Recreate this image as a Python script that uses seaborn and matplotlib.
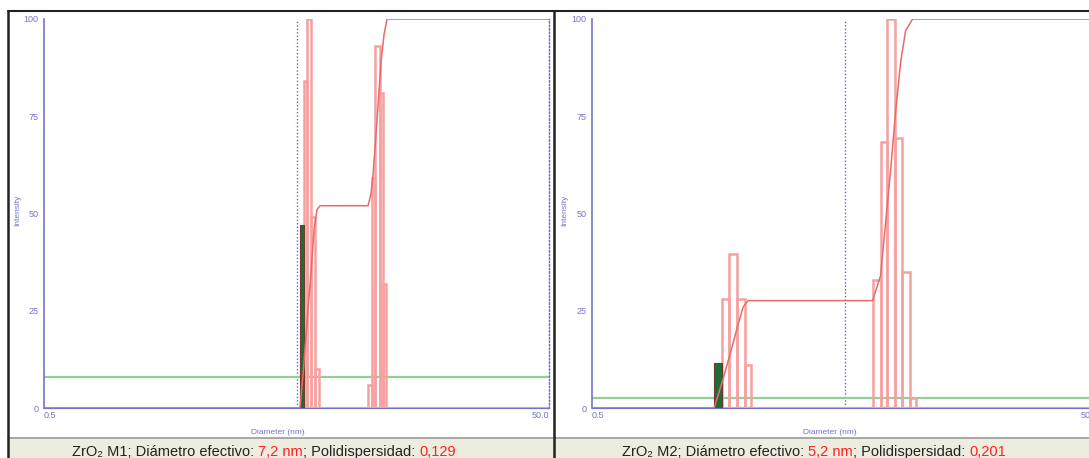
import matplotlib
matplotlib.use("Agg")
import matplotlib.pyplot as plt
import seaborn as sns
from matplotlib.patches import Rectangle
from matplotlib.lines import Line2D

# ---- data read off the two DLS size distributions (diameter in nm, intensity %) ----
# sample M1
m1_bar_lo = [5.16, 5.33, 5.50, 5.71, 5.92, 9.64, 9.91, 10.23, 10.66, 11.01]
m1_bar_hi = [5.33, 5.50, 5.71, 5.92, 6.14, 9.91, 10.23, 10.66, 11.01, 11.36]
m1_bar_h = [47, 84, 100, 49, 10, 6, 59, 93, 81, 32]
m1_cum_d = [0.5, 5.16, 5.33, 5.50, 5.71, 5.87, 6.03, 6.20, 9.60, 9.86, 10.05, 10.42, 10.81, 11.11, 11.41, 50.0]
m1_cum_v = [0, 0, 10, 22, 35, 46, 51, 52, 52, 55, 60, 74, 89, 96, 100, 100]
m1_green = 8.0

# sample M2
m2_bar_lo = [1.52, 1.63, 1.74, 1.87, 2.01, 6.44, 6.91, 7.35, 7.88, 8.42, 9.03]
m2_bar_hi = [1.63, 1.74, 1.87, 2.01, 2.13, 6.91, 7.35, 7.88, 8.42, 9.03, 9.57]
m2_bar_h = [11.5, 28, 39.5, 28, 11, 33, 68.5, 100, 69.5, 35, 2.6]
m2_cum_d = [0.5, 1.52, 1.64, 1.76, 1.88, 1.98, 2.07, 6.43, 6.91, 7.57, 7.92, 8.30, 8.68, 9.25, 50.0]
m2_cum_v = [0, 0, 7, 14, 21, 26, 27.6, 27.6, 34, 61, 76, 89, 97, 100, 100]
m2_green = 2.6

cursor_d = 5.0
x_ticks = [0.5, 50]
x_ticklabels = ["0.5", "50.0"]
y_ticks = [0, 25, 50, 75, 100]

captions = [
    [("ZrO\u2082 M1; Diámetro efectivo: ", "#222222"), ("7,2 nm", "#ff2020"),
     ("; Polidispersidad: ", "#222222"), ("0,129", "#ff2020")],
    [("ZrO\u2082 M2; Diámetro efectivo: ", "#222222"), ("5,2 nm", "#ff2020"),
     ("; Polidispersidad: ", "#222222"), ("0,201", "#ff2020")],
]

W, H = 1089, 458
sns.set_style("white")
plt.rcParams["font.family"] = ["Liberation Sans", "DejaVu Sans"]

AXBLUE = "#7474c4"
PINK = "#f7a0a0"
CURVE = "#e86a6a"
GREEN = "#93cf93"

fig = plt.figure(figsize=(W / 100, H / 100), dpi=100)


def fx(px):
    return px / W


def fy(py):
    return 1 - py / H


def draw_panel(x0_px, x1_px, lo, hi, h, cum_d, cum_v, green, ylab_x, xlab_x):
    ax = fig.add_axes([fx(x0_px), fy(408), fx(x1_px) - fx(x0_px), fy(19) - fy(408)])
    ax.set_xscale("log")
    ax.set_xlim(0.5, 50)
    ax.set_ylim(0, 100)
    ax.patch.set_alpha(0)

    # horizontal green line
    sns.lineplot(x=[0.5, 50], y=[green, green], ax=ax, color=GREEN, lw=1.6, zorder=2)
    # histogram bars
    widths = [b - a for a, b in zip(lo, hi)]
    ax.bar(lo[1:], h[1:], width=widths[1:], align="edge", fill=False,
           edgecolor=PINK, lw=1.8, zorder=3)
    ax.bar(lo[:1], h[:1], width=widths[:1], align="edge", color="#1d6e36",
           edgecolor="#6a3a2a", lw=0.8, zorder=4)
    # cumulative curve
    sns.lineplot(x=cum_d, y=cum_v, ax=ax, color=CURVE, lw=1.1, sort=False,
                 estimator=None, zorder=5)
    # zero baseline
    sns.lineplot(x=[0.5, 50], y=[0, 0], ax=ax, color=PINK, lw=1.6, zorder=2,
                 clip_on=False)
    # cursor line
    ax.axvline(cursor_d, color="#6a6ab8", lw=1.0, ls=(0, (1, 1.5)), zorder=1)

    ax.spines["top"].set_visible(False)
    ax.spines["left"].set_color(AXBLUE)
    ax.spines["left"].set_linewidth(1.2)
    ax.spines["bottom"].set_color(AXBLUE)
    ax.spines["right"].set_color("#6a6ab8")
    ax.spines["right"].set_linestyle((0, (1, 1.5)))
    ax.spines["right"].set_linewidth(1.0)

    ax.set_yticks(y_ticks)
    ax.set_yticklabels([str(v) for v in y_ticks])
    ax.set_xticks(x_ticks)
    ax.set_xticklabels(x_ticklabels)
    ax.minorticks_off()
    ax.tick_params(axis="y", length=0, pad=4, labelsize=6.5, labelcolor=AXBLUE)
    ax.tick_params(axis="x", length=0, pad=2, labelsize=6.5, labelcolor=AXBLUE)
    tl = ax.get_xticklabels()
    tl[0].set_ha("left")
    tl[1].set_ha("right")
    ax.set_xlabel("")
    ax.set_ylabel("")
    fig.text(fx(ylab_x), fy(210), "Intensity", rotation=90, ha="center", va="center",
             fontsize=6, color=AXBLUE)
    fig.text(fx(xlab_x), fy(432), "Diameter (nm)", ha="center", va="center",
             fontsize=6, color=AXBLUE)
    return ax


draw_panel(44, 549, m1_bar_lo, m1_bar_hi, m1_bar_h, m1_cum_d, m1_cum_v, m1_green, 18, 278)
draw_panel(592, 1098, m2_bar_lo, m2_bar_hi, m2_bar_h, m2_cum_d, m2_cum_v, m2_green, 565, 830)

# caption band and frames
fig.add_artist(Rectangle((fx(8), 0), fx(W - 8), fy(438), transform=fig.transFigure,
                         facecolor="#ececdf", edgecolor="none", zorder=0))
frame = [((8, 438), (W, 438), "#9a9a9a", 1.2),
         ((8, 11), (W, 11), "#222222", 1.5),
         ((8, 11), (8, H), "#222222", 1.8),
         ((554, 11), (554, H), "#222222", 1.8)]
for (a, b, c, lw) in frame:
    fig.add_artist(Line2D([fx(a[0]), fx(b[0])], [fy(a[1]), fy(b[1])],
                          transform=fig.transFigure, color=c, lw=lw, zorder=10))

renderer = fig.canvas.get_renderer()
for start_px, parts in zip([72, 622], captions):
    x = start_px
    for s, c in parts:
        t = fig.text(fx(x), fy(456), s, color=c, fontsize=10.5, ha="left", va="baseline")
        x += t.get_window_extent(renderer).width

fig.savefig("out.png", dpi=100)
